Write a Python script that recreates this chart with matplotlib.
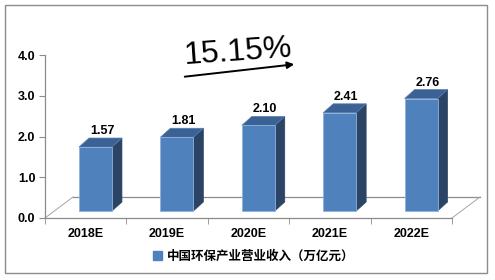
import matplotlib
matplotlib.use("Agg")
import matplotlib.pyplot as plt
from matplotlib.patches import Polygon, Rectangle, Patch

plt.rcParams['font.family'] = ['Liberation Sans', 'Noto Sans CJK SC', 'DejaVu Sans']

years = ["2018E", "2019E", "2020E", "2021E", "2022E"]
revenue = [1.57, 1.81, 2.10, 2.41, 2.76]
growth_label = "15.15%"
legend_label = "中国环保产业营业收入（万亿元）"

W, H = 495, 280
fig = plt.figure(figsize=(W / 100, H / 100), dpi=100)

# outer frame
fig.patches.append(Rectangle((5 / W, 1 - 273 / H), 482 / W, 268 / H,
                             transform=fig.transFigure, fill=False,
                             edgecolor="#8c8c8c", lw=1.0))

# plot area in pixels: x 45..452, y 55..218
ax = fig.add_axes([45 / W, 1 - 218 / H, (452 - 45) / W, (218 - 55) / H])
ax.set_xlim(-0.5, 4.5)
ax.set_ylim(0, 4)

px_x = 81.4   # pixels per category
px_y = 40.75  # pixels per unit

# 3d floor
fdx, fdy = 28 / px_x, 21 / px_y
ax.plot([-0.5 + fdx, 4.5 + fdx], [fdy, fdy], color="#8c8c8c", lw=0.9, clip_on=False, zorder=1)
ax.plot([-0.5, -0.5 + fdx], [0, fdy], color="#a6a6a6", lw=0.7, clip_on=False, zorder=1)
ax.plot([4.5, 4.5 + fdx], [0, fdy], color="#a6a6a6", lw=0.7, clip_on=False, zorder=1)

# bars
off = 0.12
bw = 0.405
base = 7 / px_y
ddx, ddy = 10 / px_x, 9 / px_y
xs = list(range(len(years)))
for i, v in enumerate(revenue):
    l = xs[i] + off - bw / 2
    r = xs[i] + off + bw / 2
    top = base + v
    side = Polygon([(r, base), (r + ddx, base + ddy), (r + ddx, top + ddy), (r, top)],
                   closed=True, facecolor="#2b4466", edgecolor="#2b4466", lw=0.5, zorder=3)
    lid = Polygon([(l, top), (l + ddx, top + ddy), (r + ddx, top + ddy), (r, top)],
                  closed=True, facecolor="#3b6294", edgecolor="#5a80b0", lw=0.5, zorder=3)
    ax.add_patch(side)
    ax.add_patch(lid)
    ax.text(xs[i] + off + ddx / 2 + 0.02, top + ddy + 0.17, "%.2f" % v,
            ha="center", va="center", fontsize=9, fontweight="bold", zorder=5)

ax.bar([x + off for x in xs], revenue, width=bw, bottom=base,
       color="#4f81bd", edgecolor="#8fb1dc", lw=0.6, zorder=4)

for s in ["top", "right"]:
    ax.spines[s].set_visible(False)
for s in ["left", "bottom"]:
    ax.spines[s].set_color("#8c8c8c")
    ax.spines[s].set_linewidth(0.9)

ax.set_yticks([0, 1, 2, 3, 4])
ax.set_yticklabels(["%.1f" % t for t in [0, 1, 2, 3, 4]], fontsize=9, fontweight="bold")
ax.tick_params(axis="y", length=4, color="#8c8c8c", pad=3)
ax.set_xticks(xs)
ax.set_xticklabels(years, fontsize=9, fontweight="bold")
ax.set_xticks([x - 0.5 for x in range(len(years) + 1)], minor=True)
ax.tick_params(axis="x", which="major", length=0, pad=7)
ax.tick_params(axis="x", which="minor", length=4, color="#8c8c8c")

# growth annotation
fig.text(238 / W, 1 - 52 / H, growth_label, fontsize=23, rotation=4,
         ha="center", va="center")
ax.annotate("", xy=(297, H - 64), xytext=(182, H - 77),
            xycoords="figure pixels", textcoords="figure pixels",
            arrowprops=dict(arrowstyle="-|>", color="black", lw=1.4, mutation_scale=10))

leg = fig.legend(handles=[Patch(facecolor="#4f81bd", edgecolor="#4f81bd")],
                 labels=[legend_label], loc="center",
                 bbox_to_anchor=(254 / W, 1 - 257 / H), frameon=False,
                 handlelength=0.7, handleheight=0.7, handletextpad=0.4,
                 prop={"size": 9, "weight": "bold"})

fig.savefig("out.png", dpi=100)
